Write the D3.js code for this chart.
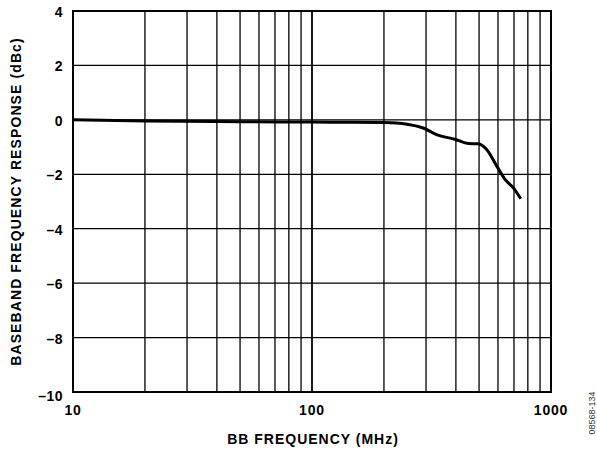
<!DOCTYPE html>
<html><head><meta charset="utf-8">
<script src="https://cdn.jsdelivr.net/npm/d3@7"></script>
<style>body{margin:0;background:#fff}</style>
</head><body>
<svg id="c" width="597" height="449"></svg>
<script>
const freqMHz = [10, 20, 50, 100, 150, 200, 250, 292, 332, 399, 451, 496, 538, 593, 642, 696, 747];
const responseDbc = [0.0, -0.04, -0.07, -0.08, -0.09, -0.10, -0.16, -0.30, -0.54, -0.72, -0.87, -0.88, -1.09, -1.70, -2.19, -2.50, -2.90];
const yTicks = [4, 2, 0, -2, -4, -6, -8, -10];
const xTickLabels = [10, 100, 1000];
const xGrid = [20,30,40,50,60,70,80,90,100,200,300,400,500,600,700,800,900];

const svg = d3.select("#c");
const L = 73, R = 551, T = 11, B = 392;
const x = d3.scaleLog().domain([10, 1000]).range([L, R]);
const y = d3.scaleLinear().domain([-10, 4]).range([B, T]);
const font = "'Liberation Sans', Arial, sans-serif";

// grid
svg.append("g").selectAll("line").data(xGrid).join("line")
  .attr("x1", d => x(d)).attr("x2", d => x(d)).attr("y1", T).attr("y2", B)
  .attr("stroke", "#000").attr("stroke-width", d => d === 100 ? 1.8 : 1.3);
svg.append("g").selectAll("line").data(yTicks).join("line")
  .attr("x1", L).attr("x2", R).attr("y1", d => y(d)).attr("y2", d => y(d))
  .attr("stroke", "#000").attr("stroke-width", 1.3);
svg.append("rect").attr("x", L).attr("y", T).attr("width", R - L).attr("height", B - T)
  .attr("fill", "none").attr("stroke", "#000").attr("stroke-width", 2);

// curve
const data = freqMHz.map((f, i) => [f, responseDbc[i]]);
svg.append("path").datum(data)
  .attr("d", d3.line().x(d => x(d[0])).y(d => y(d[1])).curve(d3.curveMonotoneX))
  .attr("fill", "none").attr("stroke", "#000").attr("stroke-width", 3);

// y tick labels
svg.append("g").selectAll("text").data(yTicks).join("text")
  .attr("x", L - 10).attr("y", d => y(d) + (d === -10 ? 9 : 6))
  .attr("text-anchor", "end").attr("font-family", font).attr("font-weight", "bold")
  .attr("font-size", 14).attr("letter-spacing", 0.5)
  .text(d => d < 0 ? "\u2013" + Math.abs(d) : d);

// x tick labels
svg.append("g").selectAll("text").data(xTickLabels).join("text")
  .attr("x", d => x(d)).attr("y", 415)
  .attr("text-anchor", "middle").attr("font-family", font).attr("font-weight", "bold")
  .attr("font-size", 14).attr("letter-spacing", 0.8).text(d => d);

// axis titles
svg.append("text").attr("x", (L + R) / 2 + 1).attr("y", 444).attr("text-anchor", "middle")
  .attr("font-family", font).attr("font-weight", "bold").attr("font-size", 14)
  .attr("letter-spacing", 1).text("BB FREQUENCY (MHz)");
svg.append("text").attr("transform", `translate(21,${(T + B) / 2}) rotate(-90)`)
  .attr("text-anchor", "middle").attr("font-family", font).attr("font-weight", "bold")
  .attr("font-size", 14).attr("letter-spacing", 1.1).text("BASEBAND FREQUENCY RESPONSE (dBc)");

// figure id
svg.append("text").attr("transform", "translate(595,413) rotate(-90)")
  .attr("text-anchor", "middle").attr("font-family", font).attr("font-size", 9)
  .attr("fill", "#333").text("08568-134");
</script>
</body></html>
